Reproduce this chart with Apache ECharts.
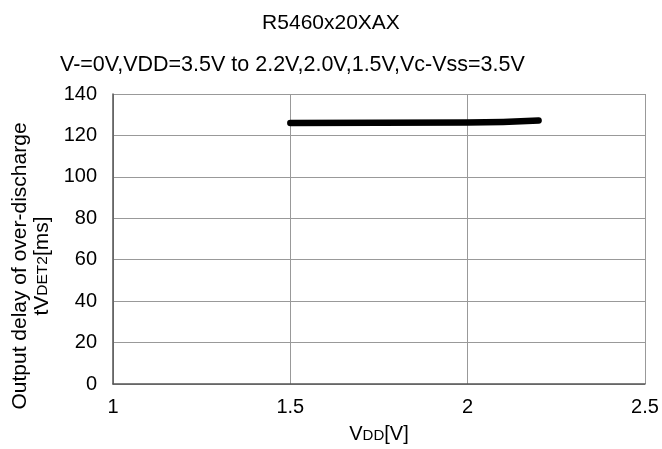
<!DOCTYPE html>
<html><head><meta charset="utf-8">
<script src="https://cdn.jsdelivr.net/npm/echarts@6/dist/echarts.min.js"></script>
<style>html,body{margin:0;padding:0;background:#fff}#c{width:662px;height:449px}</style>
</head><body><div id="c"></div>
<script>
const titleText = 'R5460x20XAX';
const subtitleText = 'V-=0V,VDD=3.5V to 2.2V,2.0V,1.5V,Vc-Vss=3.5V';
const xValues = [1.5, 2.0, 2.2];
const yValues = [126, 126.2, 127.2];
const xTicks = [1, 1.5, 2, 2.5];
const yTicks = [0, 20, 40, 60, 80, 100, 120, 140];

const font = 'Arial, "Liberation Sans", sans-serif';
const chart = echarts.init(document.getElementById('c'));
chart.setOption({
  animation: false,
  title: [
    {text: titleText, left: 'center', top: 8, textStyle: {fontFamily: font, fontSize: 21, fontWeight: 'normal', color: '#000'}},
    {text: subtitleText, left: 55, top: 49, textStyle: {fontFamily: font, fontSize: 21.5, fontWeight: 'normal', color: '#000'}}
  ],
  grid: {left: 113, right: 17, top: 94, bottom: 60},
  xAxis: {
    type: 'value', min: xTicks[0], max: xTicks[xTicks.length-1], interval: 0.5,
    axisLine: {show: true, lineStyle: {color: '#555', width: 1.5}},
    axisTick: {show: false},
    splitLine: {show: true, lineStyle: {color: '#999', width: 1}},
    axisLabel: {fontFamily: font, fontSize: 20, color: '#000', margin: 13},
    name: '{n|V}{s|DD}{n|[V]}', nameLocation: 'middle', nameGap: 40,
    nameTextStyle: {rich: {n: {fontFamily: font, fontSize: 20, color: '#000'}, s: {fontFamily: font, fontSize: 15, color: '#000', padding: [4,0,0,0]}}}
  },
  yAxis: {
    type: 'value', min: yTicks[0], max: yTicks[yTicks.length-1], interval: 20,
    axisLine: {show: true, lineStyle: {color: '#555', width: 1.5}},
    axisTick: {show: false},
    splitLine: {show: true, lineStyle: {color: '#999', width: 1}},
    axisLabel: {fontFamily: font, fontSize: 20, color: '#000', margin: 16},
    name: '{n|Output delay of over-discharge}\n{n|tV}{s|DET2}{n|[ms]}', nameLocation: 'middle', nameGap: 49,
    nameTextStyle: {align: 'center', padding: [0, 54, 0, 0], rich: {n: {fontFamily: font, fontSize: 21, color: '#000', lineHeight: 22, align: 'center'}, s: {fontFamily: font, fontSize: 15.5, color: '#000', lineHeight: 22}}}
  },
  series: [{
    type: 'line', data: xValues.map((x, i) => [x, yValues[i]]),
    showSymbol: false, smooth: true,
    lineStyle: {color: '#000', width: 6.5, cap: 'round', join: 'round'}
  }]
});
</script></body></html>
